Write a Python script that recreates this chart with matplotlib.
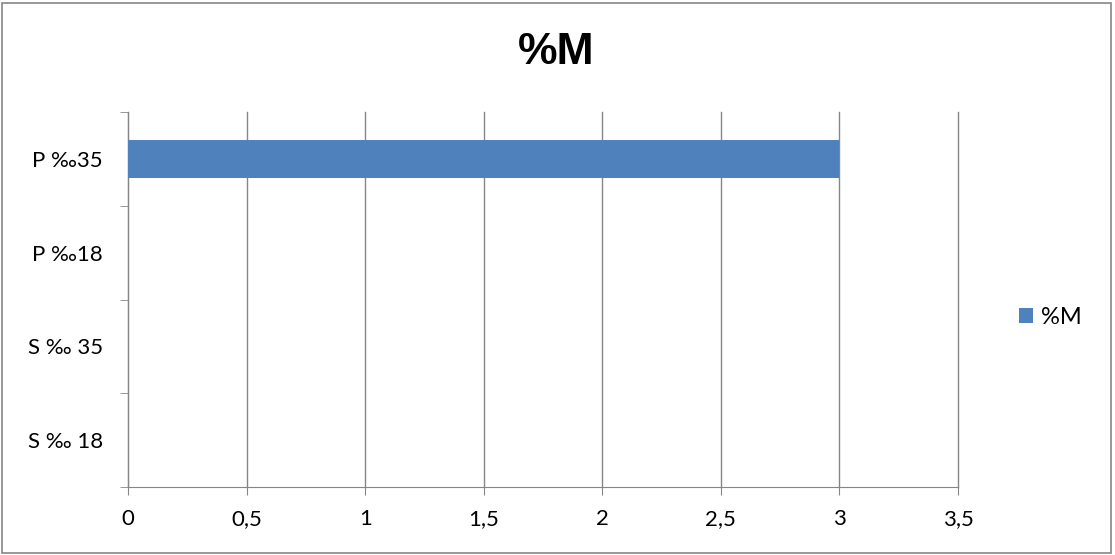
import matplotlib.pyplot as plt
import numpy as np
from matplotlib.patches import Rectangle

# données du graphique
categorias = ["S ‰ 18", "S ‰ 35", "P ‰18", "P ‰35"]
valores = [0, 0, 0, 3]
serie = "%M"
xticks = [0, 0.5, 1, 1.5, 2, 2.5, 3, 3.5]
xlabels = ["0", "0,5", "1", "1,5", "2", "2,5", "3", "3,5"]

plt.rcParams['font.family'] = ['Lato', 'DejaVu Sans']
cinza = "#868686"

fig = plt.figure(figsize=(11.15, 5.55), dpi=100)
ax = fig.add_axes([128 / 1115, 1 - 487 / 555, (958 - 128) / 1115, (487 - 112) / 555])

y = np.arange(len(categorias))
ax.barh(y, valores, height=0.4, color="#4F81BD", label=serie, zorder=3)

ax.set_xlim(0, 3.5)
ax.set_ylim(-0.5, len(categorias) - 0.5)
ax.set_xticks(xticks)
ax.set_xticklabels(xlabels, fontsize=16)
ax.set_yticks(y)
ax.set_yticklabels(categorias, fontsize=16)
ax.set_yticks(np.arange(len(categorias) + 1) - 0.5, minor=True)

ax.tick_params(axis="y", which="major", length=0, pad=18)
ax.tick_params(axis="y", which="minor", length=6, color=cinza)
ax.tick_params(axis="x", length=6, color=cinza, pad=10)

ax.grid(axis="x", color=cinza, linewidth=1, zorder=0)
for linha in ax.get_xgridlines():
    linha.set_clip_on(False)
for lado in ["top", "right"]:
    ax.spines[lado].set_visible(False)
for lado in ["left", "bottom"]:
    ax.spines[lado].set_color(cinza)

fig.text(556 / 1115, 1 - 52 / 555, serie, fontsize=32, fontweight="bold",
         ha="center", va="center", family=["Liberation Sans", "DejaVu Sans"])

fig.legend(loc="center left", bbox_to_anchor=(998 / 1115, 1 - 317 / 555),
           frameon=False, fontsize=17, handlelength=0.6, handleheight=0.6,
           handletextpad=0.3)

# borda externa
fig.patches.append(Rectangle((0.002, 0.004), 0.994, 0.99, transform=fig.transFigure,
                             fill=False, edgecolor=cinza, linewidth=1.2))

fig.savefig("out.png", dpi=100)
